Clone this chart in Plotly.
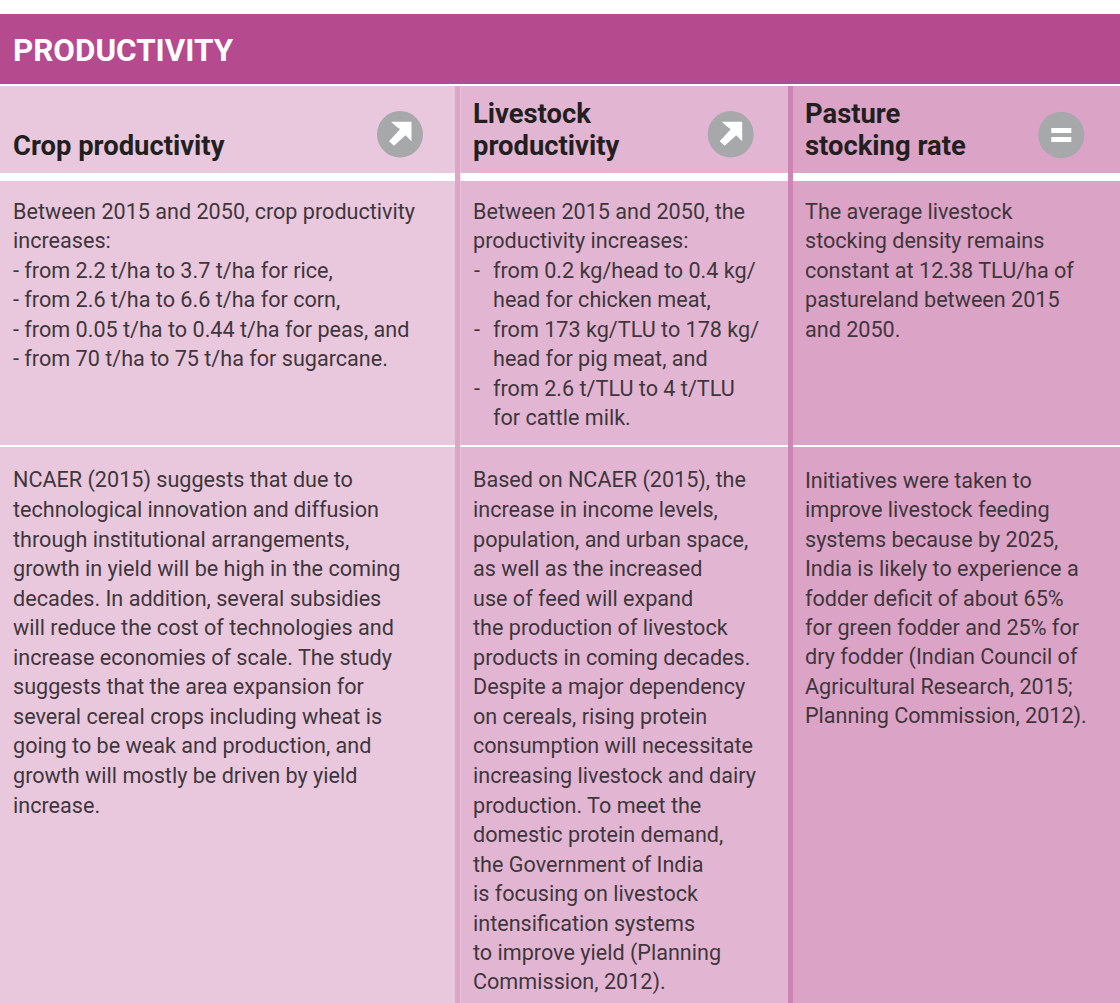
import plotly.graph_objects as go

TITLE = "PRODUCTIVITY"
HEADINGS = [["Crop productivity"], ["Livestock", "productivity"], ["Pasture", "stocking rate"]]
TRENDS = ["up", "up", "equal"]
SUMMARY = [
    ["Between 2015 and 2050, crop productivity", "increases:",
     "- from 2.2 t/ha to 3.7 t/ha for rice,",
     "- from 2.6 t/ha to 6.6 t/ha for corn,",
     "- from 0.05 t/ha to 0.44 t/ha for peas, and",
     "- from 70 t/ha to 75 t/ha for sugarcane."],
    ["Between 2015 and 2050, the", "productivity increases:",
     "- from 0.2 kg/head to 0.4 kg/", "  head for chicken meat,",
     "- from 173 kg/TLU to 178 kg/", "  head for pig meat, and",
     "- from 2.6 t/TLU to 4 t/TLU", "  for cattle milk."],
    ["The average livestock", "stocking density remains", "constant at 12.38 TLU/ha of",
     "pastureland between 2015", "and 2050."],
]
DETAIL = [
    ["NCAER (2015) suggests that due to", "technological innovation and diffusion",
     "through institutional arrangements,", "growth in yield will be high in the coming",
     "decades. In addition, several subsidies", "will reduce the cost of technologies and",
     "increase economies of scale. The study", "suggests that the area expansion for",
     "several cereal crops including wheat is", "going to be weak and production, and",
     "growth will mostly be driven by yield", "increase."],
    ["Based on NCAER (2015), the", "increase in income levels,", "population, and urban space,",
     "as well as the increased", "use of feed will expand", "the production of livestock",
     "products in coming decades.", "Despite a major dependency", "on cereals, rising protein",
     "consumption will necessitate", "increasing livestock and dairy", "production. To meet the",
     "domestic protein demand,", "the Government of India", "is focusing on livestock",
     "intensification systems", "to improve yield (Planning", "Commission, 2012)."],
    ["Initiatives were taken to", "improve livestock feeding", "systems because by 2025,",
     "India is likely to experience a", "fodder deficit of about 65%", "for green fodder and 25% for",
     "dry fodder (Indian Council of", "Agricultural Research, 2015;", "Planning Commission, 2012)."],
]

W, H = 1120, 1003
FONT = "Roboto"
COL_X = [(0, 455), (460.5, 788), (793, 1120)]
COL_BG = ["#E9C8DD", "#E2B6D3", "#DBA3C6"]
SEP_X = [(455, 460.5), (788, 793)]
SEP_BG = ["#DDA6C9", "#CE85B5"]
TEXT_X = [13, 473, 805]
ICON_C = [(400, 134.3), (730.7, 134.3), (1061.3, 135)]
LINE = 29.55
BODY_SIZE = 21.6
HEAD_SIZE = 27.4
BODY_COLOR = "#3F363C"
HEAD_COLOR = "#231F20"

fig = go.Figure()
shapes, notes = [], []

def rect(x0, y0, x1, y1, color, layer="below"):
    shapes.append(dict(type="rect", xref="x", yref="y", x0=x0, y0=y0, x1=x1, y1=y1,
                       fillcolor=color, line_width=0, layer=layer))

def label(x, y, text, size, color, bold=False):
    notes.append(dict(x=x, y=y, xref="x", yref="y", text=f"<b>{text}</b>" if bold else text,
                      showarrow=False, xanchor="left", yanchor="middle", align="left",
                      borderpad=0, borderwidth=0,
                      font=dict(family=FONT, size=size, color=color)))

rect(0, 14, W, 84, "#B54A8F")
for (x0, x1), c in zip(COL_X, COL_BG):
    rect(x0, 86, x1, H, c)
for (x0, x1), c in zip(SEP_X, SEP_BG):
    rect(x0, 86, x1, H, c)
for (x0, x1) in COL_X:
    rect(x0, 173, x1, 181, "#FFFFFF")
    rect(x0, 445, x1, 447, "#FFFFFF")

label(13, 50, TITLE, 31.4, "#FFFFFF", True)

for i in range(3):
    lines = HEADINGS[i]
    ys = [114, 146][-len(lines):]
    for y, t in zip(ys, lines):
        label(TEXT_X[i], y, t, HEAD_SIZE, HEAD_COLOR, True)
    for j, t in enumerate(SUMMARY[i]):
        y = 211 + j * LINE
        if i == 1 and t.startswith("- "):
            label(TEXT_X[i] + 1, y, "-", BODY_SIZE, BODY_COLOR)
            label(TEXT_X[i] + 20, y, t[2:], BODY_SIZE, BODY_COLOR)
        elif t.startswith("  "):
            label(TEXT_X[i] + 20, y, t.strip(), BODY_SIZE, BODY_COLOR)
        else:
            label(TEXT_X[i], y, t, BODY_SIZE, BODY_COLOR)
    for j, t in enumerate(DETAIL[i]):
        label(TEXT_X[i], 480 + j * LINE, t, BODY_SIZE, BODY_COLOR)
    cx, cy = ICON_C[i]
    shapes.append(dict(type="circle", xref="x", yref="y", x0=cx - 23, x1=cx + 23, y0=cy - 23.2, y1=cy + 23.2,
                       fillcolor="#A7A8AA", line_width=0))
    if TRENDS[i] == "up":
        pts = [(-9, -12.5), (11.5, -12.5), (11.5, 7), (5.5, 1), (-6, 11.5), (-11, 7), (0, -5), (-4, -8)]
        path = "M " + " L ".join(f"{cx + a},{cy + b}" for a, b in pts) + " Z"
        shapes.append(dict(type="path", xref="x", yref="y", path=path, fillcolor="#FFFFFF", line_width=0))
    else:
        rect(cx - 10, cy - 7, cx + 10, cy - 2, "#FFFFFF", "above")
        rect(cx - 10, cy + 2, cx + 10, cy + 7, "#FFFFFF", "above")

fig.update_layout(width=W, height=H, margin=dict(l=0, r=0, t=0, b=0),
                  paper_bgcolor="#FFFFFF", plot_bgcolor="#FFFFFF", showlegend=False,
                  shapes=shapes, annotations=notes,
                  xaxis=dict(range=[0, W], visible=False, fixedrange=True),
                  yaxis=dict(range=[H, 0], visible=False, fixedrange=True))
fig.write_html("out.html", config={"displayModeBar": False},
               default_width=f"{W}px", default_height=f"{H}px")
html = open("out.html").read().replace("<head>", "<head><style>html,body{margin:0;padding:0;overflow:hidden}</style>", 1)
open("out.html", "w").write(html)
